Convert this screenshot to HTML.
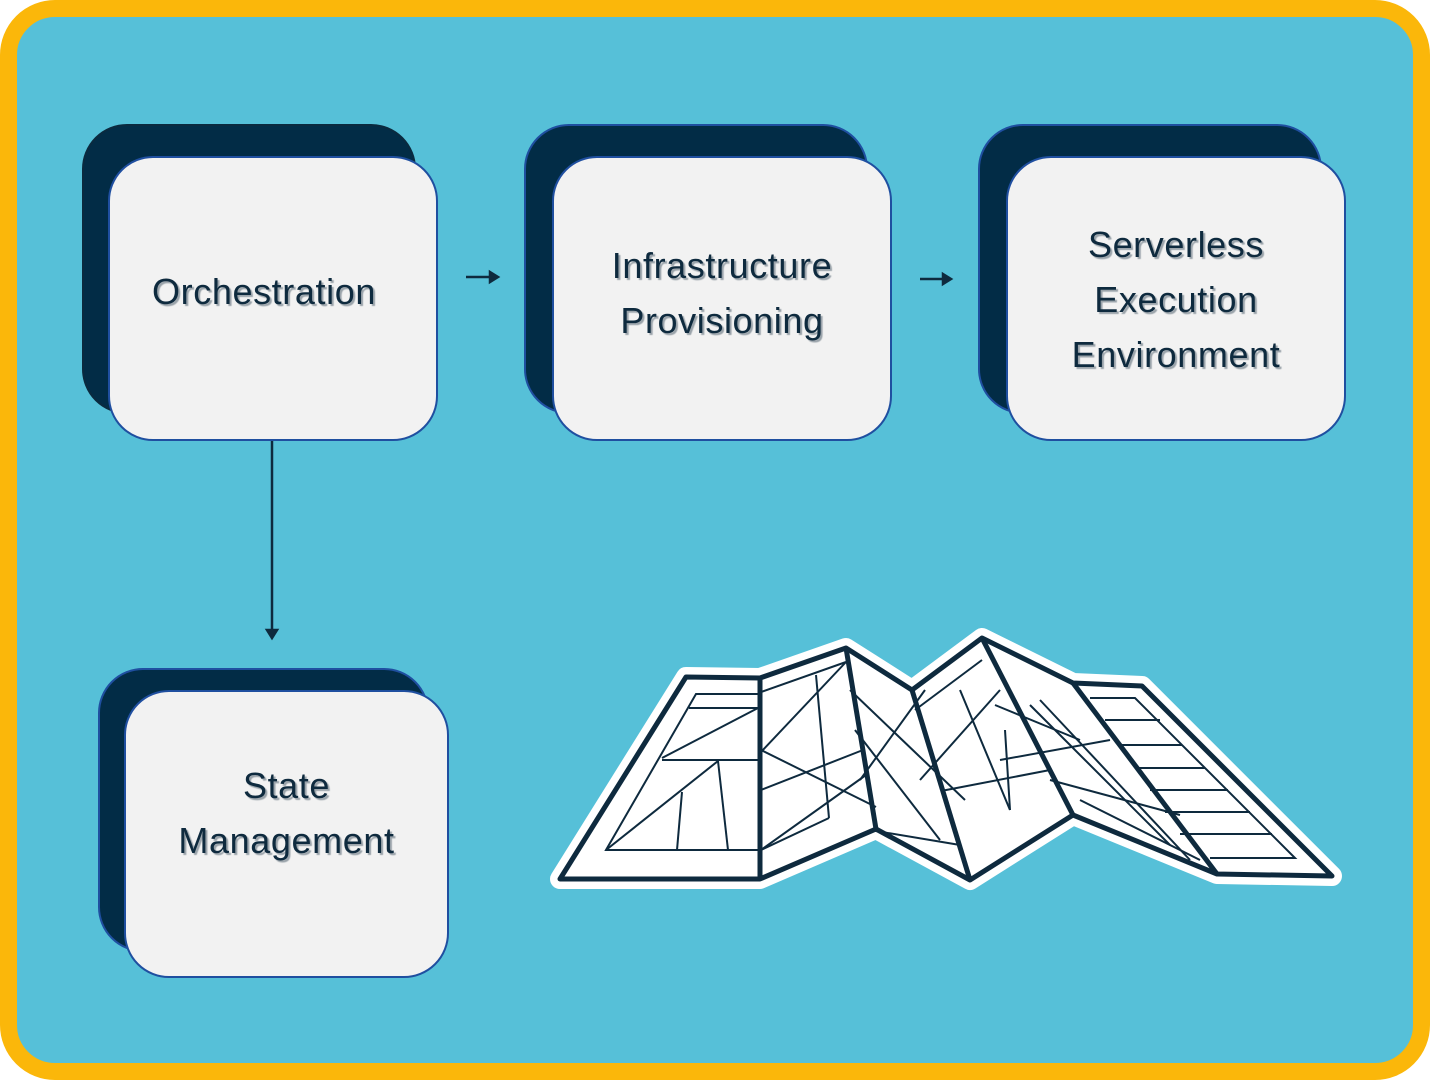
<!DOCTYPE html>
<html><head><meta charset="utf-8"><style>
body{margin:0;width:1430px;height:1080px;background:#fff;position:relative;overflow:hidden;font-family:"Liberation Sans",sans-serif}
.frame{position:absolute;left:0;top:0;width:1396px;height:1046px;border:17px solid #FBB70A;border-radius:55px;background:#56C0D8}
.sh{position:absolute;background:#022C46;border-radius:45px;border:2px solid #0a2a3f}
.bx{position:absolute;background:#F2F2F2;border:2px solid #1F4FA0;border-radius:45px;box-sizing:border-box;display:flex;align-items:center;justify-content:center;text-align:center;color:#0E2A3E;font-size:36px;letter-spacing:0.6px;line-height:55px;text-shadow:2px 2px 1px #9aa3aa}
</style></head><body>
<div class="frame"></div>
<div class="sh" style="left:82px;top:124px;width:330px;height:286px"></div>
<div class="bx" style="left:108px;top:156px;width:330px;height:285px;padding-right:18px;padding-bottom:botom;padding-bottom:14px">Orchestration</div>
<div class="sh" style="left:524px;top:124px;width:340px;height:286px;border-color:#1F4FA0"></div>
<div class="bx" style="left:552px;top:156px;width:340px;height:285px;padding-bottom:12px">Infrastructure<br>Provisioning</div>
<div class="sh" style="left:978px;top:124px;width:340px;height:286px;border-color:#1F4FA0"></div>
<div class="bx" style="left:1006px;top:156px;width:340px;height:285px;padding-top:2px">Serverless<br>Execution<br>Environment</div>
<div class="sh" style="left:98px;top:668px;width:327px;height:280px;border-color:#1F4FA0"></div>
<div class="bx" style="left:124px;top:690px;width:325px;height:288px;padding-bottom:42px">State<br>Management</div>
<svg width="1430" height="1080" style="position:absolute;left:0;top:0">
<g stroke="#0E2A3E" stroke-width="2.5" fill="#0E2A3E">
<line x1="466" y1="277" x2="492" y2="277"/><path d="M490 272 L498 277 L490 282Z"/>
<line x1="920" y1="279" x2="945" y2="279"/><path d="M943 274 L951 279 L943 284Z"/>
<line x1="272" y1="441" x2="272" y2="632"/><path d="M267 630 L272 638 L277 630Z"/>
</g>
<g stroke-linejoin="round">
<polygon points="560,879 686,677 760,678 846,648 912,690 982,638 1073,683 1142,686 1332,876 1217,874 1073,815 970,880 876,829 760,879" fill="#fff" stroke="#fff" stroke-width="20"/>
<polygon points="560,879 686,677 760,678 846,648 912,690 982,638 1073,683 1142,686 1332,876 1217,874 1073,815 970,880 876,829 760,879" fill="#fff" stroke="#0E2A3E" stroke-width="5"/>
</g>
<g stroke="#0E2A3E" stroke-width="5" fill="none">
<line x1="760" y1="678" x2="760" y2="879"/><line x1="846" y1="648" x2="876" y2="829"/><line x1="912" y1="690" x2="970" y2="880"/><line x1="982" y1="638" x2="1073" y2="815"/><line x1="1073" y1="683" x2="1217" y2="874"/>
</g>
<g stroke="#0E2A3E" stroke-width="2" fill="none">
<polyline points="758,694 696,694 606,850 758,850"/><line x1="689" y1="708" x2="758" y2="708"/>
<line x1="662" y1="758" x2="758" y2="708"/><line x1="662" y1="760" x2="758" y2="760"/>
<line x1="606" y1="850" x2="718" y2="761"/><line x1="718" y1="761" x2="728" y2="850"/><line x1="682" y1="792" x2="677" y2="850"/>
<line x1="761" y1="692" x2="846" y2="662"/><line x1="816" y1="675" x2="829" y2="818"/><line x1="761" y1="752" x2="846" y2="662"/>
<line x1="761" y1="750" x2="876" y2="807"/><line x1="761" y1="790" x2="863" y2="750"/><line x1="761" y1="850" x2="866" y2="775"/><line x1="829" y1="818" x2="761" y2="850"/>
<line x1="850" y1="690" x2="965" y2="800"/><line x1="855" y1="730" x2="940" y2="840"/><line x1="860" y1="780" x2="925" y2="690"/><line x1="870" y1="830" x2="960" y2="845"/>
<line x1="915" y1="710" x2="982" y2="660"/><line x1="920" y1="780" x2="1000" y2="690"/><line x1="960" y1="690" x2="1010" y2="810"/><line x1="941" y1="791" x2="1050" y2="770"/><line x1="1010" y1="810" x2="1005" y2="730"/>
<line x1="995" y1="705" x2="1080" y2="740"/><line x1="1030" y1="705" x2="1170" y2="845"/><line x1="1040" y1="700" x2="1190" y2="860"/><line x1="1050" y1="780" x2="1180" y2="815"/><line x1="1000" y1="760" x2="1110" y2="740"/><line x1="1080" y1="800" x2="1200" y2="860"/>
<polyline points="1090,698 1135,698 1295,858 1210,858"/>
<line x1="1105" y1="720" x2="1160" y2="720"/><line x1="1120" y1="745" x2="1182" y2="745"/><line x1="1135" y1="768" x2="1205" y2="768"/><line x1="1150" y1="790" x2="1228" y2="790"/><line x1="1165" y1="812" x2="1250" y2="812"/><line x1="1180" y1="834" x2="1272" y2="834"/>
</g>
</svg>
</body></html>
